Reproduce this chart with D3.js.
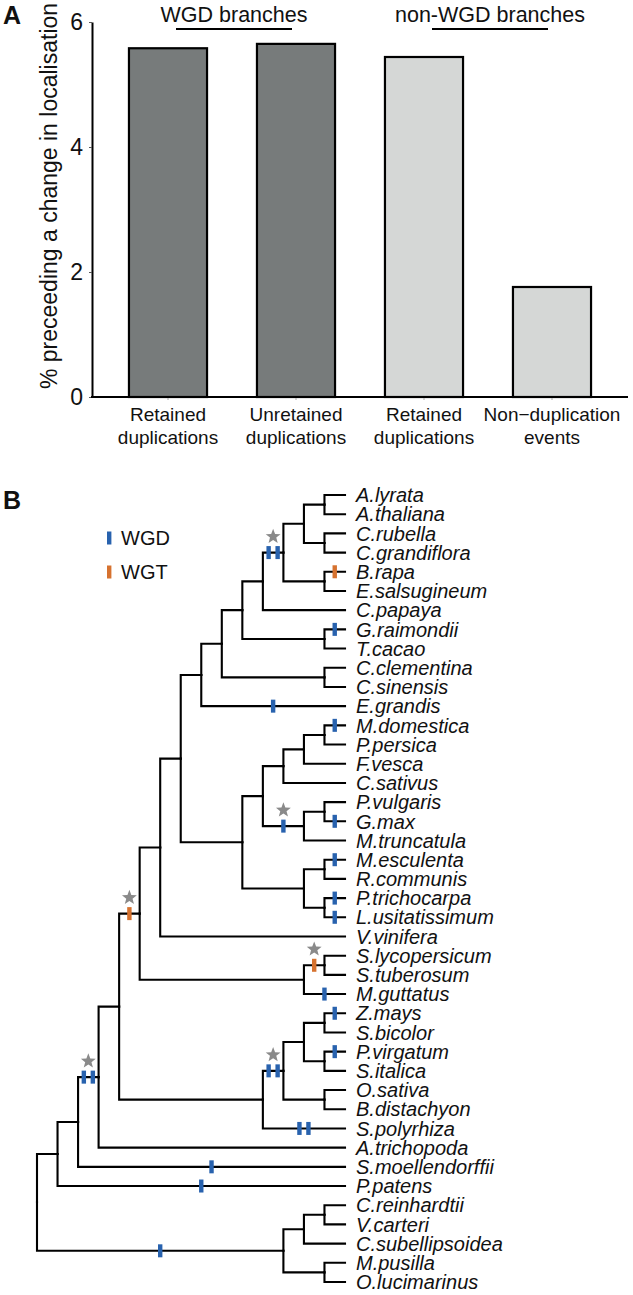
<!DOCTYPE html>
<html><head><meta charset="utf-8">
<script src="https://cdn.jsdelivr.net/npm/d3@7"></script>
<style>
body{margin:0;background:#fff}
svg{display:block}
text{font-family:"Liberation Sans",Arial,Helvetica,sans-serif;fill:#111}
</style>
</head><body>
<svg id="c" width="633" height="1295"></svg>
<script>
// ---------- Panel A data ----------
const categoryLines = [["Retained","duplications"],["Unretained","duplications"],["Retained","duplications"],["Non\u2212duplication","events"]];
const values = [5.58, 5.65, 5.44, 1.76];
const groups = ["WGD branches","WGD branches","non-WGD branches","non-WGD branches"];
const groupLabels = ["WGD branches","non-WGD branches"];
const yTicks = [0, 2, 4, 6];
const yTitle = "% preceeding a change in localisation";

// ---------- Panel B data ----------
const leaves = ["A.lyrata","A.thaliana","C.rubella","C.grandiflora","B.rapa","E.salsugineum","C.papaya",
 "G.raimondii","T.cacao","C.clementina","C.sinensis","E.grandis","M.domestica","P.persica","F.vesca",
 "C.sativus","P.vulgaris","G.max","M.truncatula","M.esculenta","R.communis","P.trichocarpa",
 "L.usitatissimum","V.vinifera","S.lycopersicum","S.tuberosum","M.guttatus","Z.mays","S.bicolor",
 "P.virgatum","S.italica","O.sativa","B.distachyon","S.polyrhiza","A.trichopoda","S.moellendorffii",
 "P.patens","C.reinhardtii","V.carteri","C.subellipsoidea","M.pusilla","O.lucimarinus"];
const leafLevel = 15;
// N(level, children...) : internal node with its drawing rank (cladogram column)
const N = (level, ...children) => ({level, children: children.map(c => typeof c === "string" ? {name: c, level: leafLevel} : c)});
const tree =
 N(0,
  N(1,
   N(2,
    N(3,
     N(4,
      N(5,
       N(6,
        N(7,
         N(8,
          N(9,
           N(10,
            N(11,
             N(12,
              N(13, N(14,"A.lyrata","A.thaliana"), N(14,"C.rubella","C.grandiflora")),
              N(14,"B.rapa","E.salsugineum")),
             "C.papaya"),
            N(14,"G.raimondii","T.cacao")),
           N(14,"C.clementina","C.sinensis")),
          "E.grandis"),
         N(10,
          N(11,
           N(12, N(13, N(14,"M.domestica","P.persica"), "F.vesca"), "C.sativus"),
           N(13, N(14,"P.vulgaris","G.max"), "M.truncatula")),
          N(13, N(14,"M.esculenta","R.communis"), N(14,"P.trichocarpa","L.usitatissimum")))),
        "V.vinifera"),
       N(13, N(14,"S.lycopersicum","S.tuberosum"), "M.guttatus")),
      N(11,
       N(12, N(13, N(14,"Z.mays","S.bicolor"), N(14,"P.virgatum","S.italica")), N(14,"O.sativa","B.distachyon")),
       "S.polyrhiza")),
     "A.trichopoda"),
    "S.moellendorffii"),
   "P.patens"),
  N(12, N(13, N(14,"C.reinhardtii","V.carteri"), "C.subellipsoidea"), N(14,"M.pusilla","O.lucimarinus")));

// polyploidy events: clade = "first..last" leaf (or a leaf), count, star, optional position (column units)
const events = [
 {clade:"A.lyrata..E.salsugineum", type:"WGD", n:2, star:true},
 {clade:"B.rapa", type:"WGT", n:1},
 {clade:"G.raimondii", type:"WGD", n:1},
 {clade:"E.grandis", type:"WGD", n:1, at:11.5},
 {clade:"M.domestica", type:"WGD", n:1},
 {clade:"P.vulgaris..M.truncatula", type:"WGD", n:1, star:true},
 {clade:"G.max", type:"WGD", n:1},
 {clade:"M.esculenta", type:"WGD", n:1},
 {clade:"P.trichocarpa", type:"WGD", n:1},
 {clade:"L.usitatissimum", type:"WGD", n:1},
 {clade:"A.lyrata..M.guttatus", type:"WGT", n:1, star:true},
 {clade:"S.lycopersicum..S.tuberosum", type:"WGT", n:1, star:true},
 {clade:"M.guttatus", type:"WGD", n:1},
 {clade:"Z.mays", type:"WGD", n:1},
 {clade:"P.virgatum", type:"WGD", n:1},
 {clade:"Z.mays..B.distachyon", type:"WGD", n:2, star:true},
 {clade:"S.polyrhiza", type:"WGD", n:2, at:13},
 {clade:"A.lyrata..A.trichopoda", type:"WGD", n:2, star:true},
 {clade:"S.moellendorffii", type:"WGD", n:1, at:8.5},
 {clade:"P.patens", type:"WGD", n:1, at:8},
 {clade:"C.reinhardtii..O.lucimarinus", type:"WGD", n:1, at:6}
];
const legendItems = ["WGD","WGT"];
const eventColors = {WGD:"#2862ae", WGT:"#d6722f"};

// ================= drawing =================
const svg = d3.select("#c");
const FONT = '"Liberation Sans",Arial,Helvetica,sans-serif';

// ---- Panel A ----
svg.append("text").attr("x",3).attr("y",24).attr("font-size",25).attr("font-weight","bold").text("A");

const x = d3.scaleBand().domain(d3.range(values.length)).range([104,616]).paddingInner(0.39).paddingOuter(0.195);
const y = d3.scaleLinear().domain([0,6]).range([397,22]);

const gA = svg.append("g");
gA.selectAll("rect.bar").data(values).join("rect").attr("class","bar")
  .attr("x",(d,i)=>x(i)).attr("width",x.bandwidth())
  .attr("y",d=>y(d)).attr("height",d=>y(0)-y(d))
  .attr("fill",(d,i)=>groups[i]===groupLabels[0] ? "#777b7b" : "#d5d7d6")
  .attr("stroke","#000").attr("stroke-width",2.2);

const yAxis = d3.axisLeft(y).tickValues(yTicks).tickFormat(d3.format("d")).tickSize(3).tickPadding(6).tickSizeOuter(0);
const ga = gA.append("g").attr("transform","translate(92,0)").call(yAxis);
ga.select(".domain").attr("stroke","#000").attr("stroke-width",2);
ga.selectAll(".tick line").attr("stroke","#555");
ga.selectAll(".tick text").attr("font-size",23).attr("font-family",FONT).attr("fill","#111");

const xAxis = d3.axisBottom(x).tickSize(3).tickFormat("").tickSizeOuter(0);
const gx = gA.append("g").attr("transform","translate(0,397)").call(xAxis);
gx.select(".domain").remove();
gx.selectAll(".tick line").attr("stroke","#aaa");
gA.append("line").attr("x1",91).attr("x2",628).attr("y1",397).attr("y2",397).attr("stroke","#000").attr("stroke-width",2.2);

categoryLines.forEach((lines,i)=>{
  const t = gA.append("text").attr("text-anchor","middle").attr("font-size",19);
  lines.forEach((l,j)=>t.append("tspan").attr("x",x(i)+x.bandwidth()/2).attr("y",421+j*22.5).text(l));
});

gA.append("text").attr("transform","translate(57,196) rotate(-90)")
  .attr("text-anchor","middle").attr("font-size",23).text(yTitle);

groupLabels.forEach(g=>{
  const idx = d3.range(values.length).filter(i=>groups[i]===g);
  const cx = d3.mean(idx, i=>x(i)+x.bandwidth()/2) + 2;
  gA.append("text").attr("x",cx).attr("y",22).attr("text-anchor","middle").attr("font-size",21.5).text(g);
  gA.append("line").attr("x1",cx-58).attr("x2",cx+58).attr("y1",29).attr("y2",29)
    .attr("stroke","#000").attr("stroke-width",2.2);
});

// ---- Panel B ----
svg.append("text").attr("x",3).attr("y",509).attr("font-size",25).attr("font-weight","bold").text("B");

const root = d3.hierarchy(tree);
const ty = d3.scalePoint().domain(leaves).range([495,1282]);
const tx = d3.scaleLinear().domain([0,leafLevel]).range([37,345]);

root.eachAfter(n=>{
  if(!n.children){ n.py = ty(n.data.name); n.first = n.last = n.data.name; }
  else {
    n.py = (n.children[0].py + n.children[n.children.length-1].py)/2;
    n.first = n.children[0].first; n.last = n.children[n.children.length-1].last;
  }
  n.key = n.children ? n.first+".."+n.last : n.data.name;
});

const gB = svg.append("g");
gB.selectAll("path.br").data(root.descendants().filter(n=>n.parent)).join("path").attr("class","br")
  .attr("d",n=>`M${tx(n.parent.data.level)},${n.parent.py}V${n.py}H${tx(n.data.level)}`)
  .attr("fill","none").attr("stroke","#000").attr("stroke-width",2.1).attr("stroke-linecap","square");

gB.selectAll("text.leaf").data(root.leaves()).join("text").attr("class","leaf")
  .attr("x",tx(leafLevel)+11).attr("y",n=>n.py).attr("dy","0.36em")
  .attr("font-size",20).attr("font-style","italic").text(n=>n.data.name);

function starPath(cx,cy,R,r){
  const pts=[];
  for(let k=0;k<10;k++){
    const a = -Math.PI/2 + k*Math.PI/5;
    const rad = k%2===0 ? R : r;
    pts.push([cx+rad*Math.cos(a), cy+rad*Math.sin(a)]);
  }
  return "M"+pts.map(p=>p.join(",")).join("L")+"Z";
}

const byKey = new Map(root.descendants().map(n=>[n.key,n]));
events.forEach(e=>{
  const n = byKey.get(e.clade);
  if(!n) return;
  const pos = e.at !== undefined ? e.at : (n.parent.data.level + n.data.level)/2;
  const cx = tx(pos);
  const gap = 9;
  for(let k=0;k<e.n;k++){
    const mx = cx + (k - (e.n-1)/2)*gap;
    gB.append("rect").attr("x",mx-2.2).attr("y",n.py-6.5).attr("width",4.4).attr("height",13)
      .attr("fill",eventColors[e.type]);
  }
  if(e.star){
    gB.append("path").attr("d",starPath(cx,n.py-16,7.8,3.3)).attr("fill","#8a8a8a");
  }
});

legendItems.forEach((t,i)=>{
  const ly = 538 + i*34;
  gB.append("rect").attr("x",107).attr("y",ly-6.5).attr("width",4.4).attr("height",13).attr("fill",eventColors[t]);
  gB.append("text").attr("x",121).attr("y",ly).attr("dy","0.36em").attr("font-size",20).text(t);
});
</script>
</body></html>
